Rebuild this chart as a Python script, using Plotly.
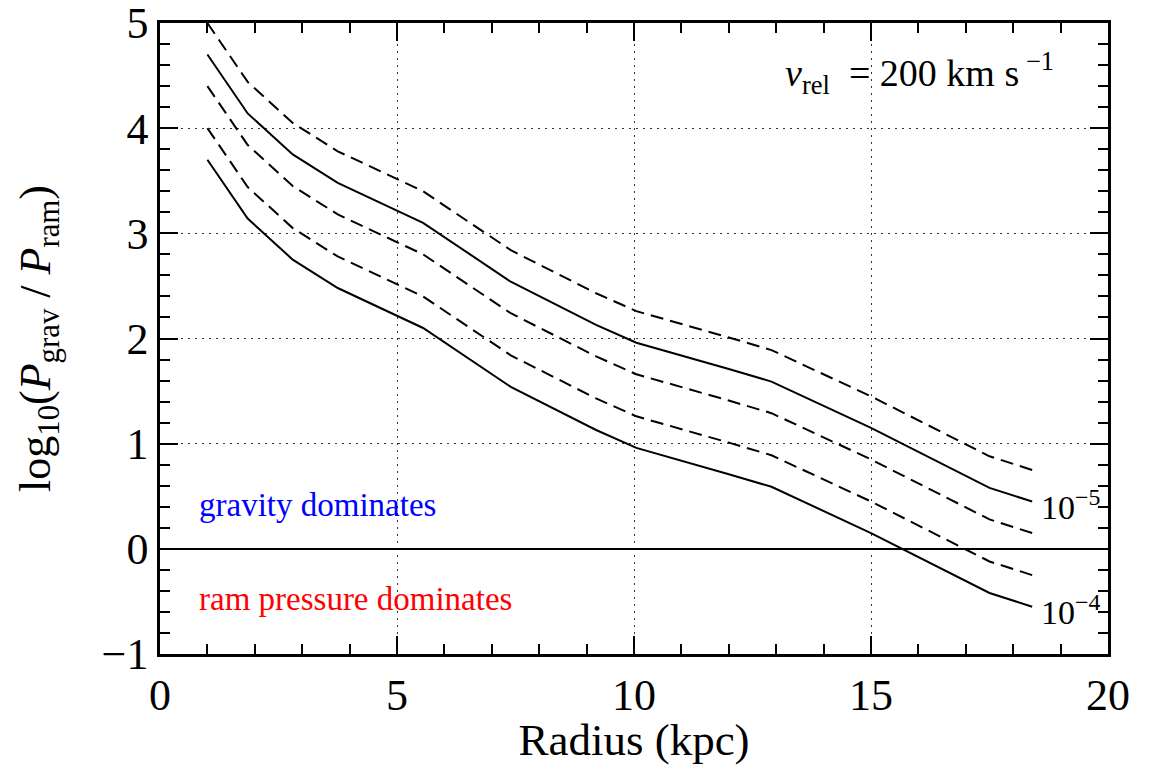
import plotly.graph_objects as go

# Galactocentric radius (kpc) at which the pressure ratio is sampled
radius = [1.0, 1.85, 2.8, 3.75, 5.55, 7.4, 9.2, 10.05, 12.0, 12.9, 15.0, 17.5, 18.4]

# log10(P_grav / P_ram) for each ICM density (solid: labelled densities, dashed: intermediate)
ratio_5e6 = [5.00, 4.44, 4.05, 3.78, 3.40, 2.84, 2.43, 2.26, 2.01, 1.89, 1.45, 0.88, 0.75]
ratio_1e5 = [4.70, 4.14, 3.75, 3.48, 3.10, 2.54, 2.13, 1.96, 1.71, 1.59, 1.15, 0.58, 0.45]
ratio_2e5 = [4.40, 3.84, 3.45, 3.18, 2.80, 2.24, 1.83, 1.66, 1.41, 1.29, 0.85, 0.28, 0.15]
ratio_5e5 = [4.00, 3.44, 3.05, 2.78, 2.40, 1.84, 1.43, 1.26, 1.01, 0.89, 0.45, -0.12, -0.25]
ratio_1e4 = [3.70, 3.14, 2.75, 2.48, 2.10, 1.54, 1.13, 0.96, 0.71, 0.59, 0.15, -0.42, -0.55]

curves = [
    ("5e-6", ratio_5e6, "13px,7px"),
    ("1e-5", ratio_1e5, "solid"),
    ("2e-5", ratio_2e5, "13px,7px"),
    ("5e-5", ratio_5e5, "13px,7px"),
    ("1e-4", ratio_1e4, "solid"),
]

SERIF = "Liberation Serif"

fig = go.Figure()
for name, values, dash in curves:
    fig.add_trace(go.Scatter(
        x=radius, y=values, mode="lines", name=name,
        line=dict(color="black", width=2, dash=dash),
        showlegend=False,
    ))

# Density labels at the end of the solid curves
fig.add_annotation(x=18.55, y=ratio_1e5[-1] - 0.03, text="10<sup>−5</sup>",
                   showarrow=False, xanchor="left", yanchor="middle",
                   font=dict(family=SERIF, size=34, color="black"))
fig.add_annotation(x=18.55, y=ratio_1e4[-1] - 0.03, text="10<sup>−4</sup>",
                   showarrow=False, xanchor="left", yanchor="middle",
                   font=dict(family=SERIF, size=34, color="black"))

fig.add_annotation(x=13.15, y=4.52,
                   text="<i>v</i><sub>rel</sub>  = 200 km s<sup> −1</sup>",
                   showarrow=False, xanchor="left", yanchor="middle",
                   font=dict(family=SERIF, size=38, color="black"))

fig.add_annotation(x=0.78, y=0.42, text="gravity dominates",
                   showarrow=False, xanchor="left", yanchor="middle",
                   font=dict(family=SERIF, size=33, color="#0000ff"))
fig.add_annotation(x=0.78, y=-0.48, text="ram pressure dominates",
                   showarrow=False, xanchor="left", yanchor="middle",
                   font=dict(family=SERIF, size=33, color="#ff0000"))

axis_common = dict(
    showline=True, linecolor="black", linewidth=2.5, mirror="allticks",
    ticks="inside", ticklen=18, tickwidth=1.5, tickcolor="black",
    showgrid=True, gridcolor="#333333", gridwidth=1.3, griddash="2px,5px",
    tickfont=dict(family=SERIF, size=44, color="black"),
    ticklabeloverflow="allow", automargin=False,
)

fig.update_xaxes(
    range=[0, 20], dtick=5, tick0=0, zeroline=False,
    minor=dict(dtick=1, ticks="inside", ticklen=10, tickwidth=1.5,
               tickcolor="black", showgrid=False),
    title=dict(text="Radius (kpc)", font=dict(family=SERIF, size=45, color="black"),
               standoff=8),
    **axis_common,
)
fig.update_yaxes(
    range=[-1, 5], dtick=1, tick0=0,
    zeroline=True, zerolinecolor="black", zerolinewidth=2,
    minor=dict(dtick=0.2, ticks="inside", ticklen=10, tickwidth=1.5,
               tickcolor="black", showgrid=False),
    title=dict(text="log<sub>10</sub>(<i>P</i><sub>grav</sub> / <i>P</i><sub>ram</sub>)",
               font=dict(family=SERIF, size=44, color="black"), standoff=38),
    **axis_common,
)

fig.update_layout(
    width=1149, height=765,
    margin=dict(l=160, r=41, t=23, b=111),
    paper_bgcolor="white", plot_bgcolor="white",
)

fig.write_html("out.html")
